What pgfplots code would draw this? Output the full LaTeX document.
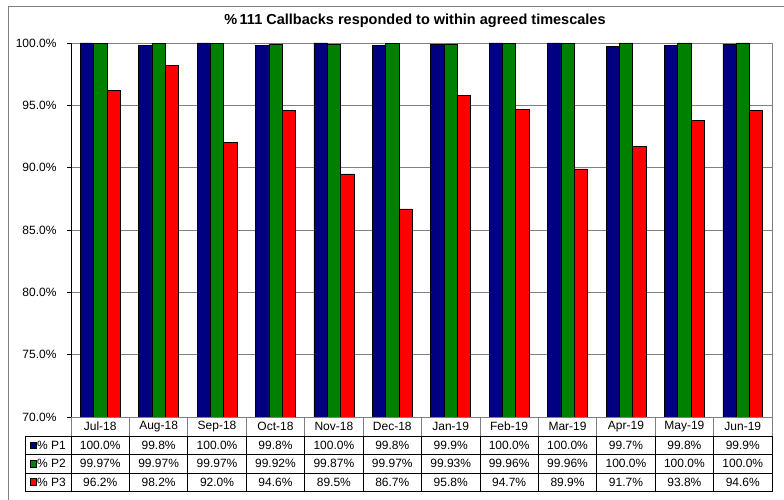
\documentclass[border=0pt]{standalone}
\usepackage{pgfplots}
\pgfplotsset{compat=1.18}
\usepackage{pgfplotstable}
\usepackage{fontspec}
\setmainfont{Liberation Sans}

\definecolor{pone}{RGB}{0,0,128}
\definecolor{ptwo}{RGB}{0,128,0}
\definecolor{pthree}{RGB}{255,0,0}
\definecolor{framegray}{RGB}{128,128,128}

% monthly percentages of callbacks answered in time, by priority
\pgfplotstableread{
idx p1    p2     p3
0   100.0 99.97  96.2
1   99.8  99.97  98.2
2   100.0 99.97  92.0
3   99.8  99.92  94.6
4   100.0 99.87  89.5
5   99.8  99.97  86.7
6   99.9  99.93  95.8
7   100.0 99.96  94.7
8   100.0 99.96  89.9
9   99.7  100.0  91.7
10  99.8  100.0  93.8
11  99.9  100.0  94.6
}\callbacks

\def\cw{58.4167}

\begin{document}
\begin{tikzpicture}[x=1pt,y=1pt,font=\fontsize{12}{14}\selectfont]
\useasboundingbox (0,0) rectangle (784,500);
\fill[white] (0,0) rectangle (784,500);
% chart frame
\draw[framegray, line width=1pt] (8,-10) -- (8,493) -- (800,493);
% title
\node[font=\fontsize{14.5}{16}\selectfont\bfseries] at (415,479)
  {\%\,111 Callbacks responded to within agreed timescales};

\begin{axis}[
  at={(71pt,83pt)}, anchor=south west,
  scale only axis, width=701pt, height=374pt,
  xmin=-0.5, xmax=11.5, ymin=70, ymax=100,
  xtick=\empty,
  ytick={70,75,80,85,90,95,100},
  yticklabels={70.0\%,75.0\%,80.0\%,85.0\%,90.0\%,95.0\%,100.0\%},
  ytick pos=left, tick align=outside, major tick length=4pt,
  y tick style={black, line width=0.8pt},
  yticklabel style={font=\fontsize{12}{14}\selectfont, xshift=-7pt},
  ymajorgrids, grid style={framegray, line width=0.8pt},
  axis line style={framegray, line width=0.8pt},
]
\addplot[ybar, bar width=0.2277, bar shift=-0.2277, fill=pone, draw=black, line width=0.6pt]
  table[x=idx, y=p1] {\callbacks};
\addplot[ybar, bar width=0.2277, bar shift=0, fill=ptwo, draw=black, line width=0.6pt]
  table[x=idx, y=p2] {\callbacks};
\addplot[ybar, bar width=0.2277, bar shift=0.2277, fill=pthree, draw=black, line width=0.6pt]
  table[x=idx, y=p3] {\callbacks};
\end{axis}

% value axis line
\draw[black, line width=0.8pt] (71,83) -- (71,457);

% data table: category row
\draw[framegray, line width=0.8pt] (71,83) -- (71,64);
\draw[framegray, line width=0.8pt] (772,83) -- (772,64);
\foreach \k in {1,...,11}
  \draw[framegray, line width=0.8pt] ({71+\k*\cw},83) -- ({71+\k*\cw},64);
\foreach \m [count=\i from 0] in {Jul-18,Aug-18,Sep-18,Oct-18,Nov-18,Dec-18,Jan-19,Feb-19,Mar-19,Apr-19,May-19,Jun-19}
  \node at ({71+(\i+0.5)*\cw},73.5) {\m};

% data table: series rows
\draw[black, line width=0.8pt] (25.5,64) rectangle (772,9);
\draw[black, line width=0.8pt] (25.5,45.5) -- (772,45.5);
\draw[black, line width=0.8pt] (25.5,27) -- (772,27);
\foreach \k in {0,...,11}
  \draw[black, line width=0.8pt] ({71+\k*\cw},64) -- ({71+\k*\cw},9);

% legend keys
\draw[black, line width=0.6pt, fill=pone]   (30,51.5) rectangle (36.5,58);
\draw[black, line width=0.6pt, fill=ptwo]   (30,33)   rectangle (36.5,39.5);
\draw[black, line width=0.6pt, fill=pthree] (30,15)   rectangle (36.5,21.5);
\node[anchor=west, inner sep=0pt] at (37,54.75) {\% P1};
\node[anchor=west, inner sep=0pt] at (37,36.25) {\% P2};
\node[anchor=west, inner sep=0pt] at (37,18)    {\% P3};

\foreach \v [count=\i from 0] in {100.0\%,99.8\%,100.0\%,99.8\%,100.0\%,99.8\%,99.9\%,100.0\%,100.0\%,99.7\%,99.8\%,99.9\%}
  \node at ({71+(\i+0.5)*\cw},54.75) {\v};
\foreach \v [count=\i from 0] in {99.97\%,99.97\%,99.97\%,99.92\%,99.87\%,99.97\%,99.93\%,99.96\%,99.96\%,100.0\%,100.0\%,100.0\%}
  \node at ({71+(\i+0.5)*\cw},36.25) {\v};
\foreach \v [count=\i from 0] in {96.2\%,98.2\%,92.0\%,94.6\%,89.5\%,86.7\%,95.8\%,94.7\%,89.9\%,91.7\%,93.8\%,94.6\%}
  \node at ({71+(\i+0.5)*\cw},18) {\v};
\end{tikzpicture}
\end{document}
